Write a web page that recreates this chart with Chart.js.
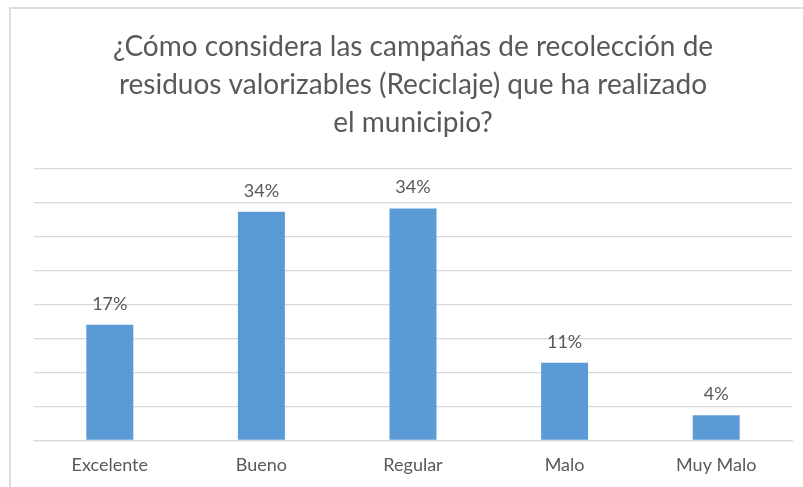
<!DOCTYPE html>
<html>
<head>
<meta charset="utf-8">
<script src="https://cdn.jsdelivr.net/npm/chart.js"></script>
<style>
    html, body { margin: 0; padding: 0; background: #fff; }
    #wrap { position: relative; width: 803px; height: 487px; }
    #frame {
        position: absolute; left: 9px; top: 7px; right: 0; bottom: 0;
        border-top: 2px solid #dcdcdc; border-left: 2px solid #dcdcdc;
    }
    #chart { position: absolute; left: 0; top: 0; }
</style>
</head>
<body>
<div id="wrap">
    <div id="frame"></div>
    <canvas id="chart" width="803" height="487"></canvas>
</div>
<script>
// Data
const categories = ['Excelente', 'Bueno', 'Regular', 'Malo', 'Muy Malo'];
const percentages = [17.0, 33.6, 34.1, 11.4, 3.7];
const titleLines = [
    '¿Cómo considera las campañas de recolección de',
    'residuos valorizables (Reciclaje) que ha realizado',
    'el municipio?'
];

const textColor = '#595959';
const fontFamily = 'Lato, "Open Sans", sans-serif';

// Simple value labels above each bar
const barLabels = {
    id: 'barLabels',
    afterDatasetsDraw(chart) {
        const ctx = chart.ctx;
        const meta = chart.getDatasetMeta(0);
        ctx.save();
        ctx.fillStyle = textColor;
        ctx.font = '18px ' + fontFamily;
        ctx.textAlign = 'center';
        ctx.textBaseline = 'middle';
        meta.data.forEach((bar, i) => {
            const value = chart.data.datasets[0].data[i];
            ctx.fillText(Math.round(value) + '%', bar.x, bar.y - 21);
        });
        ctx.restore();
    }
};

const ctx = document.getElementById('chart').getContext('2d');
new Chart(ctx, {
    type: 'bar',
    data: {
        labels: categories,
        datasets: [{
            data: percentages,
            backgroundColor: '#5b9bd5',
            borderWidth: 0,
            categoryPercentage: 1,
            barPercentage: 0.31
        }]
    },
    options: {
        responsive: false,
        animation: false,
        layout: {
            padding: { left: 34, right: 11, top: 0, bottom: -3 }
        },
        plugins: {
            legend: { display: false },
            tooltip: { enabled: false },
            title: {
                display: true,
                text: titleLines,
                color: textColor,
                font: { family: fontFamily, size: 28, weight: 'normal', lineHeight: 1.36 },
                padding: { top: 28, bottom: 26 }
            }
        },
        scales: {
            y: {
                min: 0,
                max: 40,
                ticks: { display: false, stepSize: 5 },
                grid: { color: '#d9d9d9', lineWidth: 1.3, drawTicks: false },
                border: { display: false }
            },
            x: {
                ticks: {
                    color: textColor,
                    font: { family: fontFamily, size: 18 },
                    padding: 14
                },
                grid: { display: false, drawTicks: false },
                border: { display: true, color: '#d9d9d9', width: 1.3 }
            }
        }
    },
    plugins: [barLabels]
});
</script>
</body>
</html>
